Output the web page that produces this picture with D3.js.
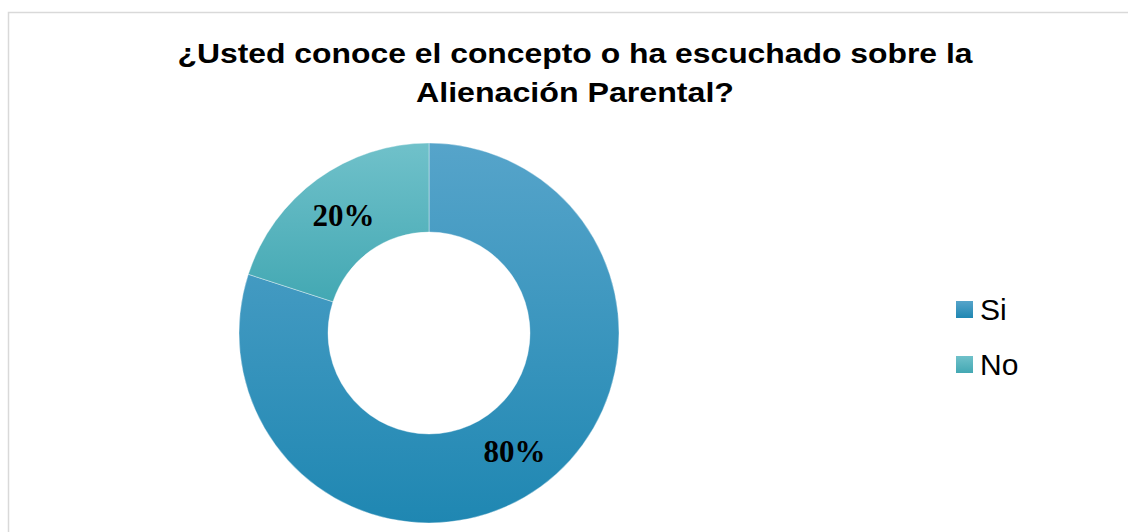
<!DOCTYPE html>
<html>
<head>
  <meta charset="UTF-8">
  <title>Alienación Parental</title>
  <style>
    body { margin: 0; background: #fff; }
    svg { display: block; }
  </style>
</head>
<body>
  <svg id="chart" width="1128" height="532"></svg>

  <script src="https://d3js.org/d3.v7.min.js"></script>
  <script>
    // data
    var categories = ["Si", "No"];
    var values = [80, 20];
    var labels = ["80%", "20%"];
    var titleLines = ["¿Usted conoce el concepto o ha escuchado sobre la", "Alienación Parental?"];

    // gradient stops per slice (top, bottom)
    var colors = [["#56a4ca", "#1f87b2"], ["#70c1ca", "#43a8b3"]];

    var svg = d3.select("#chart");

    // chart frame
    svg.append("rect")
      .attr("x", 8.5).attr("y", 12.5)
      .attr("width", 1130).attr("height", 540)
      .attr("fill", "#fff")
      .attr("stroke", "#d9d9d9")
      .attr("stroke-width", 1.5);

    var defs = svg.append("defs");
    colors.forEach(function(c, i) {
      var grad = defs.append("linearGradient")
        .attr("id", "grad" + i)
        .attr("x1", 0).attr("y1", 0).attr("x2", 0).attr("y2", 1);
      grad.append("stop").attr("offset", "0%").attr("stop-color", c[0]);
      grad.append("stop").attr("offset", "100%").attr("stop-color", c[1]);
    });

    // title (the original is a little wider than Arial, so stretch it)
    var titleWidths = [795, 318];
    svg.append("g")
      .style("font", "bold 28px 'Liberation Sans', Arial, sans-serif")
      .selectAll("text")
      .data(titleLines)
      .enter().append("text")
        .attr("text-anchor", "middle")
        .attr("x", 575)
        .attr("y", function(d, i) { return 63 + i * 39; })
        .attr("textLength", function(d, i) { return titleWidths[i]; })
        .attr("lengthAdjust", "spacingAndGlyphs")
        .text(function(d) { return d; });

    // donut
    var cx = 429, cy = 333, outerR = 190, innerR = 101;
    var g = svg.append("g").attr("transform", "translate(" + cx + "," + cy + ")");

    var pie = d3.pie().sort(null).value(function(d) { return d; });
    var arc = d3.arc().innerRadius(innerR).outerRadius(outerR);
    var arcs = pie(values);

    g.selectAll("path")
      .data(arcs)
      .enter().append("path")
        .attr("d", arc)
        .attr("fill", function(d, i) { return "url(#grad" + i + ")"; })
        .attr("stroke", "#ffffff")
        .attr("stroke-opacity", 0.5)
        .attr("stroke-width", 0.75);

    g.selectAll(".label")
      .data(arcs)
      .enter().append("text")
        .attr("class", "label")
        .attr("transform", function(d) { return "translate(" + arc.centroid(d) + ")"; })
        .attr("text-anchor", "middle")
        .attr("dy", "0.35em")
        .style("font", "bold 31px 'Liberation Serif', 'Times New Roman', serif")
        .text(function(d, i) { return labels[i]; });

    // legend
    var legend = svg.selectAll(".legend")
      .data(categories)
      .enter().append("g")
        .attr("class", "legend")
        .attr("transform", function(d, i) { return "translate(956," + (301 + i * 55) + ")"; });

    legend.append("rect")
      .attr("width", 17).attr("height", 17)
      .attr("fill", function(d, i) { return "url(#grad" + i + ")"; });

    legend.append("text")
      .attr("x", 24)
      .attr("y", 19)
      .style("font", "30px 'Liberation Sans', Arial, sans-serif")
      .text(function(d) { return d; });
  </script>
</body>
</html>
